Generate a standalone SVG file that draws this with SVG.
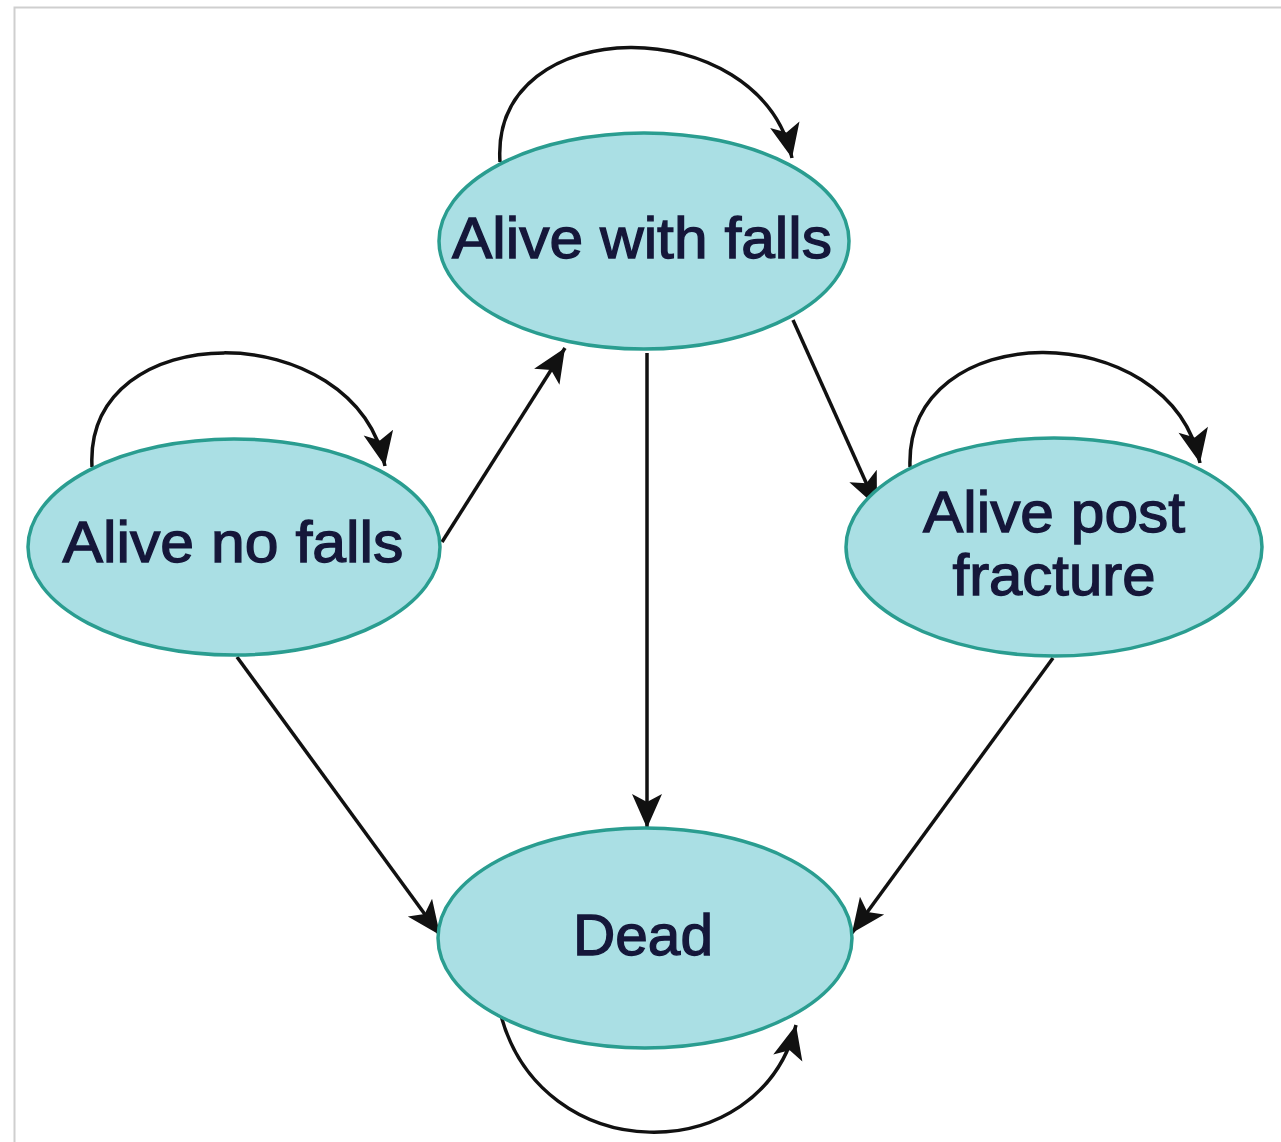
<svg xmlns="http://www.w3.org/2000/svg" width="1281" height="1142" viewBox="0 0 1281 1142">
<defs>
<style>
.node ellipse{fill:#aadfe4;stroke:#2a9d90;stroke-width:3.5}
.node text{font-family:"Liberation Sans",Arial,sans-serif;font-size:57px;fill:#15173a;stroke:#15173a;stroke-width:1.3;text-anchor:middle}
.edge{fill:none;stroke:#111;stroke-width:3.5;marker-end:url(#ah)}
</style>
<marker id="ah" markerUnits="userSpaceOnUse" viewBox="-2 -18 40 36" refX="34" refY="0" markerWidth="40" markerHeight="36" orient="auto">
<path d="M0,-15 L34,0 L0,15 L8,0 Z" fill="#111"/>
</marker>
</defs>
<rect x="0" y="0" width="1281" height="1142" fill="#fff"/>
<rect x="14.5" y="7.5" width="1300" height="1200" fill="none" stroke="#cfcfcf" stroke-width="2"/>
<g id="connectors">
<path class="edge" d="M500 162 C490 10,760 10,792 158"/>
<path class="edge" d="M92 467 C84 315,355 315,385 466"/>
<path class="edge" d="M910 467 C905 315,1170 315,1200 463"/>
<path class="edge" d="M500 1012 C540 1170,760 1170,796 1025"/>
<path class="edge" d="M442 542 L565 348"/>
<path class="edge" d="M647 353 L647 828"/>
<path class="edge" d="M793 320 L877 507"/>
<path class="edge" d="M237 657 L440 935"/>
<path class="edge" d="M1053 658 L852 933"/>
</g>
<g id="alive-with-falls" class="node">
<ellipse cx="644" cy="241" rx="205" ry="108"/>
<text x="642" y="258" textLength="380" lengthAdjust="spacingAndGlyphs">Alive with falls</text>
</g>
<g id="alive-no-falls" class="node">
<ellipse cx="234" cy="547" rx="206" ry="108"/>
<text x="233" y="562" textLength="341" lengthAdjust="spacingAndGlyphs">Alive no falls</text>
</g>
<g id="alive-post-fracture" class="node">
<ellipse cx="1054" cy="547" rx="208" ry="109"/>
<text x="1054" y="532" textLength="262" lengthAdjust="spacingAndGlyphs">Alive post</text>
<text x="1054" y="595" textLength="203" lengthAdjust="spacingAndGlyphs">fracture</text>
</g>
<g id="dead" class="node">
<ellipse cx="645" cy="938" rx="207" ry="110"/>
<text x="643" y="955" textLength="140" lengthAdjust="spacingAndGlyphs">Dead</text>
</g>
</svg>
